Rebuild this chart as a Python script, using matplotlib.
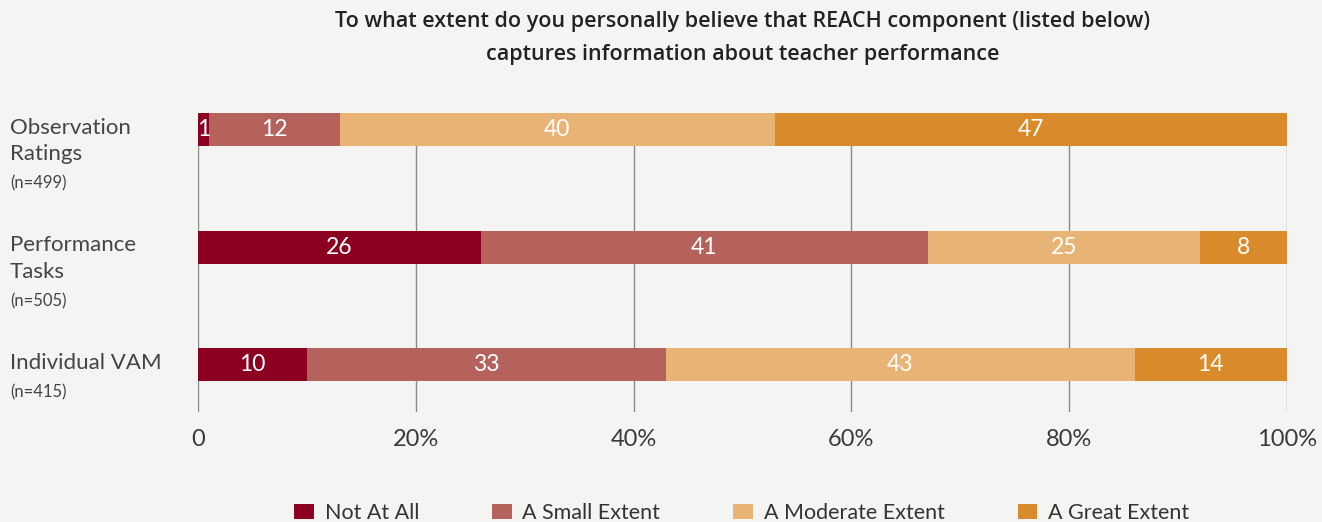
import matplotlib
matplotlib.use('Agg')
import matplotlib.pyplot as plt
from matplotlib.patches import Patch
import numpy as np

# ── data ─────────────────────────────────────────────
components = ['Observation\nRatings', 'Performance\nTasks', 'Individual VAM']
n_labels = ['(n=499)', '(n=505)', '(n=415)']
levels = ['Not At All', 'A Small Extent', 'A Moderate Extent', 'A Great Extent']
not_at_all = [1, 26, 10]
small = [12, 41, 33]
moderate = [40, 25, 43]
great = [47, 8, 14]
xticks = [0, 20, 40, 60, 80, 100]
xtick_labels = ['0', '20%', '40%', '60%', '80%', '100%']
title = ('To what extent do you personally believe that REACH component (listed below)\n'
         'captures information about teacher performance')

colors = ['#8b0020', '#b5625c', '#e8b476', '#d98b2b']
bg = '#f4f4f2'
FONT = ['Lato', 'DejaVu Sans']

plt.rcParams['font.family'] = FONT

fig = plt.figure(figsize=(13.22, 5.22), dpi=100, facecolor=bg)
ax = fig.add_axes([0.1498, 0.2107, 0.8237, 0.5728], facecolor=bg)

y = np.arange(len(components))
series = [not_at_all, small, moderate, great]
left = np.zeros(len(components))
for vals, col in zip(series, colors):
    vals = np.array(vals, dtype=float)
    ax.barh(y, vals, left=left, height=0.28, color=col, zorder=3)
    for yi, l, v in zip(y, left, vals):
        ax.text(l + v / 2, yi, f'{int(v)}', ha='center', va='center',
                color='white', fontsize=16.5, zorder=4)
    left += vals

ax.set_xlim(0, 100)
ax.set_ylim(2.40, -0.14)
ax.set_xticks(xticks)
ax.set_xticklabels(xtick_labels, fontsize=17, color='#3a3a3a')
ax.tick_params(axis='x', length=0, pad=12)
ax.set_yticks([])
for s in ax.spines.values():
    s.set_visible(False)
for xv in xticks:
    ax.axvline(xv, color='#8a8a8a', lw=1.0, zorder=1)

# category labels on the left
for yi, name, nl in zip(y, components, n_labels):
    t = ax.annotate(name, xy=(0.0075, yi - 0.1), xycoords=('figure fraction', 'data'),
                    ha='left', va='top', fontsize=16, color='#444444',
                    linespacing=1.4)
    ax.annotate(nl, xy=(0, 0), xycoords=t, xytext=(0, -8), textcoords='offset points',
                ha='left', va='top', fontsize=12, color='#444444')

fig.text(0.562, 0.927, title, ha='center', va='center', fontsize=15.5,
         fontweight='semibold', color='#222222', linespacing=1.75,
         family=['Open Sans', 'DejaVu Sans'])

handles = [Patch(facecolor=c, edgecolor='none') for c in colors]
fig.legend(handles, levels, loc='center', bbox_to_anchor=(0.561, 0.018), ncol=4,
           frameon=False, fontsize=15.5, handlelength=0.9, handleheight=0.7,
           columnspacing=3.4, handletextpad=0.5, labelcolor='#333333')

fig.savefig('out.png', dpi=100, facecolor=bg)
